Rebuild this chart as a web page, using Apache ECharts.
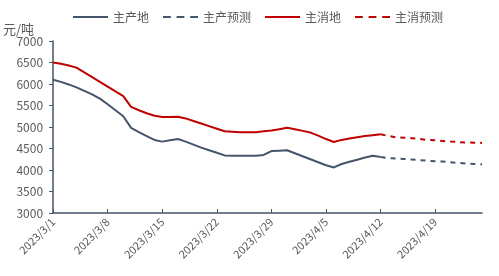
<!DOCTYPE html>
<html><head><meta charset="utf-8">
<script src="https://cdn.jsdelivr.net/npm/echarts@6/dist/echarts.min.js"></script>
<style>html,body{margin:0;padding:0;background:#fff}#c{width:499px;height:276px}</style>
</head><body><div id="c"></div>
<script>
const categories = [];
(function(){
  for (let d = 1; d <= 31; d++) categories.push('2023/3/' + d);
  for (let d = 1; d <= 25; d++) categories.push('2023/4/' + d);
})();
const producerActual = [6100,6050,5990,5920,5840,5760,5660,5530,5390,5250,4980,4880,4790,4700,4660,4690,4720,4660,4590,4520,4460,4400,4340,4330,4330,4330,4330,4350,4440,4450,4460,4390,4320,4250,4180,4110,4060,4140,4190,4240,4290,4330,4300];
const producerForecast = [4300,4280,4265,4255,4245,4230,4215,4205,4195,4180,4165,4150,4140,4135];
const consumerActual = [6500,6470,6430,6380,6270,6160,6050,5940,5830,5720,5470,5390,5320,5260,5230,5230,5240,5200,5140,5080,5020,4960,4900,4890,4880,4880,4880,4900,4920,4950,4980,4950,4910,4870,4800,4720,4650,4700,4730,4760,4790,4810,4830];
const consumerForecast = [4830,4790,4760,4750,4740,4720,4700,4690,4675,4660,4650,4640,4635,4630];
const yTicks = [3000,3500,4000,4500,5000,5500,6000,6500,7000];

const forecastStart = consumerActual.length - 1;
function pad(arr, start){ const out = new Array(categories.length).fill(null); arr.forEach((v,i)=>{ out[start+i]=v; }); return out; }

const GREY = '#44546A', RED = '#C00000';
const SOLID = 'path://M0,0H36V2H0Z';
const DASH = 'path://M0,0H8V2H0Z M14,0H22V2H14Z M28,0H36V2H28Z';
const chart = echarts.init(document.getElementById('c'));
chart.setOption({
  animation:false,
  textStyle:{fontFamily:'"Noto Sans CJK SC", "Open Sans", sans-serif'},
  legend:{
    top:6, left:68, itemWidth:35, itemHeight:2, itemGap:14,
    textStyle:{color:'#595959', fontSize:12},
    data:[
      {name:'主产地', icon:SOLID, itemStyle:{color:GREY}},
      {name:'主产预测', icon:DASH, itemStyle:{color:GREY}},
      {name:'主消地', icon:SOLID, itemStyle:{color:RED}},
      {name:'主消预测', icon:DASH, itemStyle:{color:RED}}
    ]
  },
  grid:{left:52, right:17, top:41, bottom:63},
  xAxis:{
    type:'category', data:categories, boundaryGap:false,
    axisLine:{lineStyle:{color:GREY, width:1.5}},
    axisTick:{show:true, inside:true, length:4, interval:6, lineStyle:{color:GREY}},
    axisLabel:{interval:6, rotate:45, color:'#595959', fontSize:11, margin:7}
  },
  yAxis:{
    type:'value', min:yTicks[0], max:yTicks[yTicks.length-1], interval:500,
    name:'元/吨', nameLocation:'end', nameGap:0,
    nameTextStyle:{color:'#595959', fontSize:13, align:'right', padding:[0,19,0,0]},
    axisLine:{show:true, lineStyle:{color:GREY, width:1.5}},
    axisTick:{show:true, length:4, lineStyle:{color:GREY}},
    splitLine:{show:false},
    axisLabel:{color:'#595959', fontSize:12, margin:10, formatter:function(v){return String(v);}}
  },
  series:[
    {name:'主产地', type:'line', data:pad(producerActual,0), showSymbol:false, symbol:'none', lineStyle:{color:GREY, width:2}, itemStyle:{color:GREY}},
    {name:'主产预测', type:'line', data:pad(producerForecast,forecastStart), showSymbol:false, symbol:'none', lineStyle:{color:GREY, width:2, type:[5,5]}, itemStyle:{color:GREY}},
    {name:'主消地', type:'line', data:pad(consumerActual,0), showSymbol:false, symbol:'none', lineStyle:{color:RED, width:2}, itemStyle:{color:RED}},
    {name:'主消预测', type:'line', data:pad(consumerForecast,forecastStart), showSymbol:false, symbol:'none', lineStyle:{color:RED, width:2, type:[5,5]}, itemStyle:{color:RED}}
  ]
});
</script></body></html>
